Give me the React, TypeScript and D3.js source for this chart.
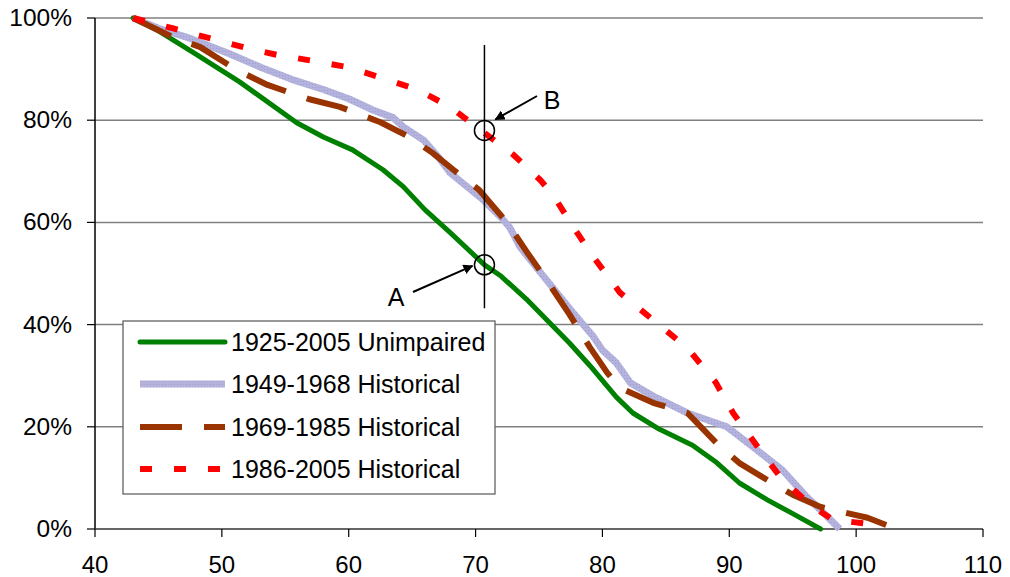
import React from "react";
import * as d3 from "d3";

type Pt = [number, number];

const xTicks = [40, 50, 60, 70, 80, 90, 100, 110];
const yTicks = [0, 20, 40, 60, 80, 100];

const unimpaired: Pt[] = [[43,100],[45,97.5],[47.7,93.3],[51.4,87.5],[55.9,79.5],[58,76.7],[60.3,74.2],[62.7,70.3],[64.3,67],[66,62.5],[68,58],[70.7,51.7],[72,49.5],[74,45],[77.4,36.4],[79,32],[81.1,25.8],[82.4,22.7],[84.5,19.5],[87.1,16.4],[89,13],[90.8,9],[93,5.7],[95,3],[97.2,0]];
const hist4968: Pt[] = [[43,100],[45,98],[47.5,96],[50.6,93],[53.2,90.2],[55.5,88],[58,86],[60,84.2],[61.9,82],[63.5,80.5],[64.3,78.7],[65.9,76.1],[67,73],[68,69.7],[70.6,64.4],[72,61],[72.7,59],[73.5,55.2],[75.6,48.7],[77.7,42.3],[79.3,37.6],[80,35],[81.1,32.5],[82.2,28.6],[84,26],[86.7,22.7],[89.8,20],[91.9,16],[94.2,11.5],[96.1,6.3],[97.5,3],[98.7,0]];
const hist6985: Pt[] = [[43,100],[46.1,96.3],[48.3,94.3],[51.2,89.8],[53.6,86.9],[56.9,84.1],[59.3,82.6],[62.5,79.6],[64.8,76.7],[66.6,73.6],[68.2,70.4],[70.3,66.3],[72.5,59.9],[74.1,54],[75.6,48.7],[77.4,42],[79,35.6],[80.4,30.5],[81.4,27.6],[84,24.7],[86.7,22.7],[89,16.8],[90.8,12.9],[93,9.6],[95,6.7],[97.2,4.3],[100.9,2.2],[103.2,0]];
const hist8605: Pt[] = [[43,100],[46.1,98],[49.1,96],[52,94.1],[54.3,92.8],[57.2,91.6],[59.9,90.4],[62.7,88.2],[65.4,86],[68,82.6],[70.6,77.7],[73,73.2],[75.1,68.3],[76.1,65.4],[77.7,59.1],[79.3,53.2],[81.4,46.2],[84,40.9],[86.7,35.4],[88.9,28.8],[90.3,22.7],[92.4,15.5],[94.2,9.6],[96.6,4.3],[98.2,1.8],[101,1],[101,0]];

const seriesNames = ["1925-2005 Unimpaired", "1949-1968 Historical", "1969-1985 Historical", "1986-2005 Historical"];

const refX = 70.7;
const refYRange: Pt = [94.7, 43.2];
const pointA: Pt = [70.7, 51.7];
const pointB: Pt = [70.7, 78.0];

export default function App() {
  const W = 1010, H = 577;
  const left = 95, right = 983, top = 18, bottom = 529;
  const x = d3.scaleLinear().domain([40, 110]).range([left, right]);
  const y = d3.scaleLinear().domain([0, 100]).range([bottom, top]);
  const line = d3.line<Pt>().x(d => x(d[0])).y(d => y(d[1]));
  const font = "'Liberation Sans', Arial, sans-serif";

  const styles = [
    { data: unimpaired, stroke: "#008000", width: 5, dash: undefined as string | undefined },
    { data: hist4968, stroke: "#b3b3de", width: 7, dash: undefined },
    { data: hist6985, stroke: "#993300", width: 6, dash: "42 22" },
    { data: hist8605, stroke: "#ff0000", width: 6, dash: "12 22" },
  ];

  const legendY = [342, 384, 427, 469];

  return (
    <svg width={W} height={H} style={{ position: "absolute", left: 0, top: 0 }} fontFamily={font}>
      <defs>
        <pattern id="hatch" width="3" height="3" patternUnits="userSpaceOnUse">
          <rect width="3" height="3" fill="#b3b3de" />
          <rect width="1" height="1" fill="#9e9ed0" />
        </pattern>
        <marker id="arr" viewBox="0 0 10 10" refX="9" refY="5" markerWidth="5" markerHeight="5" orient="auto">
          <path d="M0,0 L10,5 L0,10 z" fill="#000" />
        </marker>
      </defs>
      <rect width={W} height={H} fill="#fff" />
      {yTicks.filter(t => t > 0).map(t => (
        <line key={t} x1={left} x2={right} y1={y(t)} y2={y(t)} stroke="#808080" strokeWidth={1.5} />
      ))}
      <line x1={left} x2={left} y1={top} y2={bottom} stroke="#000" strokeWidth={1.5} />
      <line x1={left} x2={right} y1={bottom} y2={bottom} stroke="#333" strokeWidth={1.5} />
      {yTicks.map(t => (
        <g key={t}>
          <line x1={left - 8} x2={left} y1={y(t)} y2={y(t)} stroke="#000" strokeWidth={1.2} />
          <text x={72} y={y(t) + 8} textAnchor="end" fontSize={24.5} fill="#000">{t}%</text>
        </g>
      ))}
      {xTicks.map(t => (
        <g key={t}>
          <line x1={x(t)} x2={x(t)} y1={bottom} y2={bottom + 8} stroke="#000" strokeWidth={1.2} />
          <text x={x(t)} y={573} textAnchor="middle" fontSize={24} fill="#000">{t}</text>
        </g>
      ))}
      {styles.map((s, i) => (
        <path key={i} d={line(s.data) || ""} fill="none" stroke={i === 1 ? "url(#hatch)" : s.stroke}
          strokeWidth={s.width} strokeDasharray={s.dash} strokeLinejoin="round"
          strokeLinecap={i === 0 ? "round" : "butt"} />
      ))}
      <line x1={x(refX)} x2={x(refX)} y1={y(refYRange[0])} y2={y(refYRange[1])} stroke="#000" strokeWidth={1.5} />
      <circle cx={x(pointB[0])} cy={y(pointB[1])} r={10} fill="none" stroke="#000" strokeWidth={1.5} />
      <circle cx={x(pointA[0])} cy={y(pointA[1])} r={10} fill="none" stroke="#000" strokeWidth={1.5} />
      <line x1={537} y1={96} x2={x(pointB[0]) + 11} y2={y(pointB[1]) - 11} stroke="#000" strokeWidth={2} markerEnd="url(#arr)" />
      <text x={552} y={109} textAnchor="middle" fontSize={25} fill="#000">B</text>
      <line x1={413} y1={292} x2={x(pointA[0]) - 12} y2={y(pointA[1]) + 1} stroke="#000" strokeWidth={2} markerEnd="url(#arr)" />
      <text x={396} y={306} textAnchor="middle" fontSize={25} fill="#000">A</text>
      <rect x={123} y={321} width={372} height={173} fill="#fff" stroke="#555" strokeWidth={1.2} />
      {styles.map((s, i) => (
        <g key={i}>
          <line x1={140} x2={225} y1={legendY[i]} y2={legendY[i]}
            stroke={i === 1 ? "url(#hatch)" : s.stroke} strokeWidth={s.width}
            strokeDasharray={s.dash} strokeLinecap={i === 0 ? "round" : "butt"} />
          <text x={231} y={legendY[i] + 9} fontSize={25} fill="#000">{seriesNames[i]}</text>
        </g>
      ))}
    </svg>
  );
}
